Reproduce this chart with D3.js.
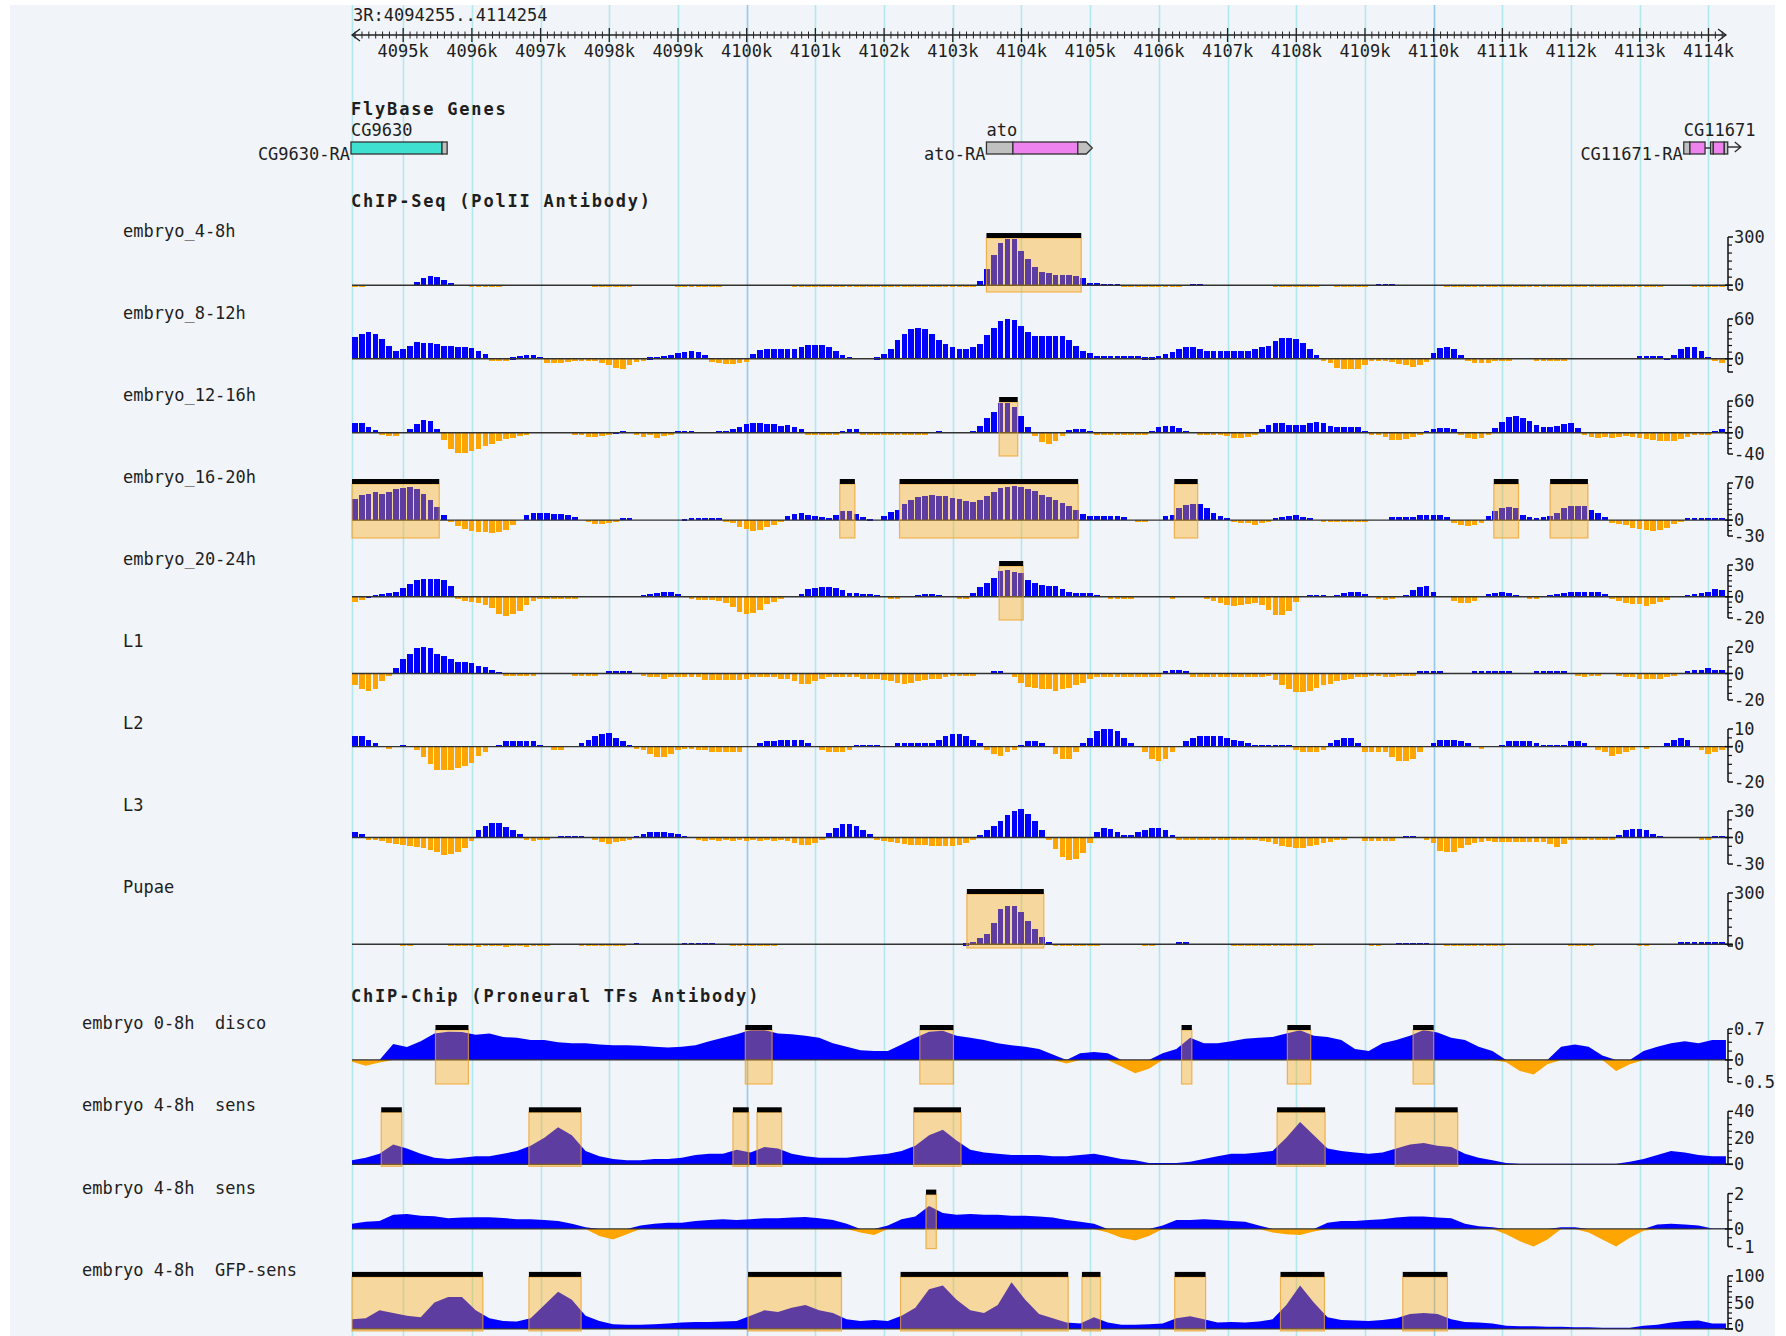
<!DOCTYPE html>
<html>
<head>
<meta charset="utf-8">
<script src="https://cdn.jsdelivr.net/npm/d3@7"></script>
<style>
  html, body { margin: 0; padding: 0; background: #fff; overflow: hidden; }
  svg { display: block; }
  text { font-family: "DejaVu Sans Mono", "Liberation Mono", monospace; fill: #1e1e1e; white-space: pre; }
</style>
</head>
<body>
<svg id="chart" width="1786" height="1336"></svg>
<script>
// ---------------- region ----------------
const chromName = "3R";
const regionStart = 4094255;
const regionEnd = 4114254;
const rulerKb = [4095,4096,4097,4098,4099,4100,4101,4102,4103,4104,4105,4106,4107,4108,4109,4110,4111,4112,4113,4114];

// ---------------- genes (bp) ----------------
const geneNames = ["CG9630", "ato", "CG11671"];
const transcriptNames = ["CG9630-RA", "ato-RA", "CG11671-RA"];
// parts: [start, end, kind]  kind: cds / cds5 / utr / utrTip / intron / arrow
const geneParts = [
  [[4094150, 4095565, "cds"], [4095565, 4095640, "utr"]],
  [[4103490, 4103875, "utr"], [4103875, 4104820, "cds5"], [4104820, 4105030, "utrTip"]],
  [[4113640, 4113730, "utr"], [4113730, 4113950, "cds5"], [4113950, 4114030, "intron"],
   [4114030, 4114070, "utr"], [4114070, 4114230, "cds5"], [4114230, 4114280, "utr"], [4114280, 4114470, "arrow"]]
];

// ---------------- ChIP-Seq (PolII), 100 bp bins ----------------
const seqBinSize = 100;
const seqLabels = ["embryo_4-8h","embryo_8-12h","embryo_12-16h","embryo_16-20h","embryo_20-24h","L1","L2","L3","Pupae"];
const seqDomains = [[-30,300],[-20,60],[-40,60],[-30,70],[-20,30],[-20,20],[-20,10],[-30,30],[-10,300]];
const seqTickLabels = [[300,0],[60,0],[60,0,-40],[70,0,-30],[30,0,-20],[20,0,-20],[10,0,-20],[30,0,-30],[300,0]];

const seqE4_8 = [
  -5,-5,0,0,0,0,0,0,0,20, 45,60,50,35,15,0,0,-4,-4,-4, -4,-4,0,0,0,0,0,0,0,0, 0,0,0,0,0,-3,-4,-8,-6,-4,
  -3,0,0,0,0,0,0,-4,-4,-4, -4,-4,-4,-4,0,0,0,0,0,0, 0,0,0,0,-4,-4,-4,-4,-4,-4, -4,-4,-4,-4,-4,-4,-4,-4,-4,-4,
  -4,-4,-8,-8,-8,-8,-8,-8,-8,-8, -8,25,100,190,260,290,290,215,160,115, 85,78,65,65,65,55,45,15,12,10,
  8,8,-6,-6,-8,-10,-10,-10,-8,-6, -6,0,10,10,0,0,0,0,0,0, 0,0,0,0,-4,-4,-6,-6,-6,-4, -4,0,0,-4,-4,-4,-4,-4,0,8,
  8,8,0,0,0,0,0,0,0,-4, -4,-4,-4,-6,-4,-4,-4,-6,-4,-4, -4,-4,-4,-4,-4,-8,-8,-8,-8,-8, -8,-8,-8,-8,-8,-8,-8,-8,-8,-8,
  -8,0,0,0,0,-8,-8,-8,-10,-12];
const seqE8_12 = [
  33,38,40,38,30,20,12,15,20,25, 24,24,23,19,19,18,17,16,12,7, -2,-4,-4,2,4,6,6,3,-6,-7, -6,-5,-2,-2,-2,-2,-6,-10,-14,-16,
  -10,-5,-3,2,3,4,6,8,10,11, 10,6,-5,-7,-8,-8,-7,-5,7,13, 14,14,14,14,14,18,21,21,21,17, 11,6,3,0,0,0,2,7,15,28,
  38,45,47,45,38,29,22,18,14,14, 17,22,36,47,57,60,58,50,40,35, 35,35,35,35,29,19,12,8,4,4, 4,4,4,4,4,2,2,4,7,10,
  14,17,17,15,12,11,11,11,12,12, 12,14,17,20,27,32,32,30,24,14, 6,-2,-6,-14,-16,-16,-15,-10,-4,-3, -3,-5,-8,-10,-13,-10,-5,9,16,17,
  15,6,-4,-7,-7,-6,-4,-3,-2,0, 0,0,-2,-2,-2,-2,-2,0,0,0, 0,0,0,0,0,0,0,4,4,4, 4,1,6,14,17,17,11,3,-2,-6];
const seqE12_16 = [
  18,18,11,5,-3,-6,-6,0,8,17, 24,22,8,-14,-31,-38,-38,-34,-30,-25, -21,-16,-12,-9,-6,-3,0,0,0,0, 0,0,-2,-5,-8,-8,-6,-3,2,4,
  0,-3,-8,-4,-10,-6,-3,4,4,4, 0,0,0,3,4,7,11,16,18,18, 16,16,13,14,11,7,-2,-4,-4,-3, -2,3,7,7,-2,-4,-5,-5,-5,-4,
  -3,-3,-3,-2,0,4,0,0,0,0, 4,13,27,40,56,57,49,31,11,-6, -18,-22,-15,-6,5,8,8,4,-3,-3, -3,-3,-3,-3,-3,-3,4,11,13,13,
  9,4,0,-3,-3,-3,-4,-6,-9,-9, -7,-3,7,15,18,18,15,15,15,18, 21,18,13,11,11,11,11,4,-2,-5, -8,-13,-14,-12,-8,-4,3,8,10,10,
  8,-4,-9,-11,-10,-5,9,20,29,31, 27,22,14,11,11,13,16,18,9,-4, -8,-10,-8,-9,-8,-6,-7,-9,-11,-14, -16,-16,-15,-12,-8,-4,-3,-2,4,8];
const seqE16_20 = [
  40,47,50,53,50,53,58,61,63,59, 50,37,24,10,-4,-12,-17,-20,-22,-22, -24,-22,-18,-9,0,9,14,14,14,11, 11,10,5,0,-4,-7,-7,-5,-2,4,
  4,0,0,0,0,0,0,0,3,4, 4,4,4,4,-3,-6,-13,-17,-20,-18, -13,-9,-4,7,11,13,10,7,5,4, 9,18,18,12,6,3,0,8,16,20,
  31,38,43,46,47,46,45,42,39,36, 35,38,45,53,60,63,64,62,58,54, 48,43,38,32,26,20,11,8,7,7, 7,7,5,0,-3,-3,0,0,7,9,
  22,28,31,31,22,13,7,4,-3,-5, -6,-9,-6,-3,4,5,7,9,5,4, 0,-3,-3,-3,-3,-3,-3,-3,0,0, 0,5,5,5,5,9,9,9,9,5,
  -5,-9,-12,-10,-5,7,18,23,24,22, 9,5,4,6,8,14,22,27,27,27, 20,13,6,-5,-8,-9,-14,-16,-18,-20, -18,-14,-8,-3,4,4,4,4,4,4];
const seqE20_24 = [
  -5,-3,1,2,3,4,5,8,12,16, 17,17,17,16,10,-1,-4,-5,-6,-8, -11,-16,-18,-16,-13,-8,-4,-2,-1,-1, -1,-1,-1,0,0,0,0,0,0,0,
  0,0,2,3,4,5,5,3,0,-1, -3,-3,-3,-4,-6,-10,-14,-16,-15,-12, -7,-5,-2,0,0,3,7,8,9,9, 8,6,4,4,3,3,2,0,-2,-2,
  0,0,2,3,3,2,0,0,-2,-2, 4,9,13,18,24,25,23,22,16,13, 11,10,10,7,5,4,4,4,2,0, -2,-2,-2,-2,0,0,0,0,0,-2,
  0,0,0,0,-2,-4,-6,-8,-9,-8, -7,-6,-8,-12,-17,-17,-13,-5,0,2, 2,2,0,2,4,5,5,3,0,-2, -3,-2,0,2,6,9,10,5,0,0,
  -4,-6,-6,-4,0,3,4,5,4,2, 0,-2,-2,0,2,3,4,5,5,5, 5,5,3,-2,-4,-6,-7,-7,-9,-7, -5,-3,0,0,2,3,4,5,7,6];
const seqL1 = [
  -9,-12,-13,-12,-6,-2,4,11,15,19, 20,19,15,13,11,9,9,8,6,5, 3,1,-1,-2,-2,-2,-1,0,0,0, 0,0,-2,-2,-2,-2,0,2,2,2,
  2,0,-2,-3,-3,-4,-3,-3,-3,-3, -3,-5,-5,-5,-5,-5,-5,-4,-3,-3, -3,-3,-4,-4,-6,-8,-8,-6,-4,-3, -3,-3,-3,-3,-4,-4,-4,-5,-6,-7,
  -8,-7,-6,-5,-4,-4,-3,-2,-2,-2, -1,0,0,2,2,0,-3,-7,-10,-11, -12,-12,-13,-12,-11,-9,-7,-4,-3,-3, -3,-3,-3,-3,-3,-3,-3,-3,2,3,
  3,2,-3,-3,-3,-3,-3,-3,-3,-3, -3,-3,-3,-2,-5,-9,-12,-14,-14,-13, -11,-9,-8,-6,-5,-4,-3,-3,-2,-2, -3,-3,-2,-2,-2,2,2,2,2,0,
  0,0,0,2,2,2,2,2,2,0, 0,0,2,2,2,2,2,0,-2,-3, -2,-2,0,0,-2,-3,-3,-4,-4,-4, -4,-3,-2,0,2,3,3,4,3,3];
const seqL2 = [
  6,6,4,2,0,-1,0,1,0,-2, -6,-10,-13,-13,-13,-12,-11,-9,-5,-3, 0,1,3,3,3,3,3,1,0,-2, -2,0,0,2,4,6,7,8,5,3,
  1,-1,-2,-4,-6,-6,-4,-2,-1,-1, -2,-2,-3,-3,-3,-3,-3,0,0,2, 3,3,4,4,4,4,2,0,-2,-3, -3,-3,-2,1,1,1,1,0,0,2,
  2,2,2,2,2,4,6,7,7,6, 4,2,-2,-4,-5,-3,-2,1,3,3, 2,0,-4,-7,-7,-3,2,5,9,10, 10,9,5,2,0,-3,-7,-8,-7,-3,
  0,3,5,6,6,6,6,5,4,3, 2,1,1,1,1,1,1,-2,-3,-3, -3,-2,2,4,5,5,2,-3,-3,-3, -3,-6,-8,-8,-7,-3,0,2,4,4,
  4,3,2,0,-1,0,0,1,3,3, 3,3,2,1,1,1,1,3,3,2, 0,-2,-3,-5,-4,-3,-2,0,-1,0, 0,2,4,5,4,0,-2,-4,-3,-2];
const seqL3 = [
  6,4,-1,-3,-4,-6,-7,-8,-10,-11, -12,-14,-16,-20,-19,-16,-12,-4,8,13, 16,16,12,8,4,-2,-4,-3,-2,0, 2,2,2,2,0,-3,-5,-7,-5,-4,
  -2,2,4,6,6,6,5,4,2,0, -3,-4,-3,-4,-3,-4,-3,-4,-3,-4, -3,-4,-3,-4,-6,-8,-8,-6,-2,5, 11,15,15,13,9,4,-2,-4,-5,-6,
  -7,-8,-8,-9,-10,-10,-10,-10,-9,-6, -3,3,8,13,19,26,30,32,27,19, 8,-3,-13,-22,-26,-24,-17,-6,6,11, 10,6,3,3,6,8,11,11,8,3,
  -3,-3,-3,-3,-3,-3,-3,-3,-3,-3, -3,-3,-4,-5,-7,-10,-11,-12,-12,-10, -8,-6,-5,-3,-2,0,0,-4,-4,-4, -4,-4,0,2,2,0,-3,-6,-15,-16,
  -16,-12,-8,-6,-5,-4,-5,-5,-5,-5, -5,-5,-5,-5,-7,-11,-7,-3,-2,-2, -2,-2,-2,-2,3,8,10,10,8,4, 2,0,0,0,0,0,-3,-3,2,2];
const seqPupae = [
  0,0,0,0,0,0,0,-10,-10,0, 0,0,0,0,-10,-10,-10,-10,-15,-10, -10,-10,-15,-10,-10,-15,-10,-10,-10,0, 0,0,0,-10,-10,-10,-10,-10,-10,-10,
  0,8,0,0,0,0,0,0,10,10, 10,10,10,0,0,-10,-10,-10,-10,-10, -10,-10,0,0,0,0,0,0,0,0, 0,0,0,0,0,0,0,0,0,0,
  0,0,0,0,0,0,0,0,0,5, 15,35,60,125,205,225,225,190,135,88, 40,12,-8,-8,-8,-8,-8,-8,-8,0, 0,0,0,0,0,-10,-10,0,0,0,
  12,12,0,0,0,0,0,0,-10,-10, -10,-10,-10,-10,-8,-8,-8,-8,-8,-8, 0,0,0,0,0,0,0,0,-8,-8, 0,0,10,10,10,10,10,0,0,-8,
  -8,-8,-8,-8,-8,-8,-8,-8,0,0, 0,0,0,0,0,0,0,-10,-10,-10, -10,0,0,0,0,0,0,-10,-10,0, 0,0,0,12,12,12,12,12,12,12];
const seqValues = [seqE4_8, seqE8_12, seqE12_16, seqE16_20, seqE20_24, seqL1, seqL2, seqL3, seqPupae];

// called enriched regions per ChIP-Seq track (bp)
const seqPeaks = [
  [[4103490, 4104870]],
  [],
  [[4103675, 4103945]],
  [[4094255, 4095525], [4101355, 4101575], [4102225, 4104825], [4106225, 4106565], [4110875, 4111235], [4111695, 4112245]],
  [[4103675, 4104025]],
  [], [], [],
  [[4103205, 4104325]]
];

// ---------------- ChIP-Chip (proneural TFs), 200 bp steps ----------------
const chipStep = 200;
const chipLabels = ["embryo 0-8h  disco", "embryo 4-8h  sens", "embryo 4-8h  sens", "embryo 4-8h  GFP-sens"];
const chipDomains = [[-0.5, 0.7], [0, 40], [-1, 2], [0, 100]];
const chipTickLabels = [[0.7, 0, -0.5], [40, 20, 0], [2, 0, -1], [100, 50, 0]];
const chipDisco = [
  -0.04,-0.13,-0.06,0.36,0.29,0.42,0.6,0.64,0.63,0.57, 0.6,0.52,0.5,0.45,0.45,0.4,0.38,0.38,0.35,0.33,
  0.33,0.32,0.3,0.28,0.3,0.33,0.42,0.5,0.58,0.68, 0.68,0.6,0.58,0.55,0.5,0.38,0.3,0.22,0.2,0.2,
  0.35,0.5,0.64,0.66,0.55,0.5,0.45,0.38,0.33,0.3, 0.25,0.12,-0.08,0.15,0.18,0.15,-0.15,-0.3,-0.2,0.15,
  0.25,0.5,0.38,0.38,0.42,0.48,0.5,0.52,0.6,0.67, 0.55,0.52,0.45,0.25,0.2,0.38,0.45,0.55,0.68,0.62,
  0.5,0.45,0.3,0.2,-0.05,-0.25,-0.33,-0.1,0.3,0.35, 0.3,0.1,-0.25,-0.1,0.2,0.3,0.38,0.42,0.38,0.45];
const chipSens1 = [
  3,5,8,15,12,8,5,4,5,6, 6,8,10,14,20,28,22,10,6,4, 3,3,4,4,5,7,8,8,11,9, 13,12,8,6,5,5,5,6,7,8,
  10,14,22,26,18,11,9,8,7,7, 7,6,6,7,8,6,4,3,1,1, 1,2,4,6,8,8,9,10,20,32, 22,12,10,9,8,9,12,15,16,14,
  13,8,5,3,1,0.5,0.5,0.5,0.5,0.5, 0.5,0.5,0.5,2,4,7,10,9,7,6];
const chipSens2 = [
  0.3,0.4,0.45,0.8,0.85,0.75,0.72,0.6,0.65,0.66, 0.66,0.62,0.55,0.55,0.5,0.45,0.3,0.1,-0.4,-0.6,
  -0.3,0.2,0.3,0.35,0.35,0.45,0.5,0.55,0.5,0.55, 0.6,0.6,0.65,0.67,0.6,0.5,0.3,-0.2,-0.35,0.2,
  0.55,0.7,1.3,0.9,0.8,0.85,0.8,0.8,0.75,0.75, 0.7,0.65,0.5,0.4,0.3,-0.2,-0.5,-0.65,-0.4,0.2,
  0.5,0.5,0.55,0.5,0.45,0.4,0.2,-0.2,-0.3,-0.35, -0.15,0.35,0.45,0.45,0.5,0.55,0.65,0.7,0.7,0.65,
  0.6,0.3,0.15,0.1,-0.3,-0.7,-1.0,-0.6,0.1,0.1, -0.2,-0.6,-1.0,-0.5,-0.1,0.25,0.3,0.25,0.2,0.02];
const chipGfpSens = [
  18,20,35,30,25,22,50,60,60,35, 20,15,14,20,45,70,55,25,15,9, 8,8,9,10,12,13,13,14,15,25, 35,32,40,45,35,30,18,15,17,15,
  25,40,75,82,55,35,30,45,88,55, 28,20,12,10,22,12,8,8,9,10, 20,24,18,12,13,12,14,18,45,82, 50,22,17,16,15,17,20,28,30,28,
  18,13,12,10,6,5,5,4,4,3, 3,2,2,2,6,8,12,15,16,10];
const chipValues = [chipDisco, chipSens1, chipSens2, chipGfpSens];

const chipPeaks = [
  [[4095470,4095950],[4099980,4100370],[4102520,4103010],[4106330,4106480],[4107870,4108210],[4109700,4110000]],
  [[4094680,4094980],[4096830,4097590],[4099800,4100030],[4100150,4100510],[4102430,4103120],[4107720,4108420],[4109440,4110350]],
  [[4102610,4102760]],
  [[4094255,4096160],[4096830,4097590],[4100020,4101380],[4102240,4104680],[4104880,4105150],[4106230,4106680],[4107770,4108410],[4109550,4110200]]
];

// ---------------- layout ----------------
const W = 1786, H = 1336;
const plotLeft = 352, plotRight = 1726, axisX = 1728;
const trackH = 53;
const seqTop0 = 237, seqGap = 82;
const chipTop0 = 1029, chipGap = 82.3;
const BLUE = "#0000ff", ORANGE = "#ffa500";
const PEAK_FILL = "rgba(255,165,0,0.37)", PEAK_EDGE = "rgba(238,160,40,0.75)";

const svg = d3.select("#chart");
const x = d3.scaleLinear().domain([regionStart, regionEnd + 1]).range([plotLeft, plotRight]);

// page background
svg.append("rect").attr("width", W).attr("height", H).attr("fill", "#ffffff");
svg.append("rect").attr("x", 10).attr("y", 5).attr("width", 1765).attr("height", H - 5).attr("fill", "#f1f4f9");

// kilobase grid lines
const gridPos = [regionStart].concat(rulerKb.map(k => k * 1000));
svg.append("g").selectAll("line").data(gridPos).join("line")
  .attr("x1", d => Math.round(x(d)) + 0.5).attr("x2", d => Math.round(x(d)) + 0.5)
  .attr("y1", 5).attr("y2", H)
  .attr("stroke", d => (d % 10000 === 0 ? "#93caee" : "#b2e9ee"))
  .attr("stroke-width", 1.6);

// ---------------- ruler ----------------
const ruler = svg.append("g");
const rulerY = 35;
ruler.append("text").attr("x", 353).attr("y", 21).attr("font-size", 17)
  .text(`${chromName}:${regionStart}..${regionEnd}`);
ruler.append("line").attr("x1", plotLeft).attr("x2", plotRight).attr("y1", rulerY).attr("y2", rulerY)
  .attr("stroke", "#222").attr("stroke-width", 1.3);
ruler.append("path").attr("d", `M${plotLeft + 8},${rulerY - 6} L${plotLeft},${rulerY} L${plotLeft + 8},${rulerY + 6}`)
  .attr("fill", "none").attr("stroke", "#222").attr("stroke-width", 1.3);
ruler.append("path").attr("d", `M${plotRight - 8},${rulerY - 6} L${plotRight},${rulerY} L${plotRight - 8},${rulerY + 6}`)
  .attr("fill", "none").attr("stroke", "#222").attr("stroke-width", 1.3);
const minorTicks = d3.range(Math.ceil(regionStart / 100) * 100, regionEnd, 100).filter(d => d % 1000 !== 0);
ruler.append("g").selectAll("line").data(minorTicks).join("line")
  .attr("x1", d => x(d)).attr("x2", d => x(d)).attr("y1", rulerY - 3.5).attr("y2", rulerY + 3.5)
  .attr("stroke", "#222").attr("stroke-width", 1);
ruler.append("g").selectAll("line").data(rulerKb).join("line")
  .attr("x1", d => x(d * 1000)).attr("x2", d => x(d * 1000)).attr("y1", rulerY - 7).attr("y2", rulerY + 7)
  .attr("stroke", "#222").attr("stroke-width", 1.3);
ruler.append("g").selectAll("text").data(rulerKb).join("text")
  .attr("x", d => x(d * 1000)).attr("y", 57).attr("text-anchor", "middle").attr("font-size", 17)
  .text(d => `${d}k`);

// ---------------- section headings ----------------
function heading(y, t) {
  svg.append("text").attr("x", 351).attr("y", y).attr("font-size", 17).attr("font-weight", "bold")
    .attr("letter-spacing", 1.8).text(t);
}
heading(115, "FlyBase Genes");
heading(207, "ChIP-Seq (PolII Antibody)");
heading(1002, "ChIP-Chip (Proneural TFs Antibody)");

// ---------------- genes ----------------
const geneG = svg.append("g");
const gTop = 142, gH = 12;
geneParts.forEach((parts, gi) => {
  const start = parts[0][0];
  const x0 = Math.max(x(start), plotLeft - 1);
  parts.forEach(([s, e, kind]) => {
    const xs = Math.max(x(s), plotLeft - 1), xe = x(e);
    if (kind === "intron") {
      geneG.append("line").attr("x1", xs).attr("x2", xe).attr("y1", gTop + gH / 2).attr("y2", gTop + gH / 2)
        .attr("stroke", "#333").attr("stroke-width", 1.5);
    } else if (kind === "arrow") {
      const ym = gTop + gH / 2 - 1;
      geneG.append("path").attr("d", `M${xs},${ym} L${xe},${ym} M${xe - 6},${ym - 5} L${xe},${ym} L${xe - 6},${ym + 5}`)
        .attr("fill", "none").attr("stroke", "#333").attr("stroke-width", 1.4);
    } else if (kind === "utrTip") {
      geneG.append("path")
        .attr("d", `M${xs},${gTop} L${xe - 6},${gTop} L${xe},${gTop + gH / 2} L${xe - 6},${gTop + gH} L${xs},${gTop + gH} Z`)
        .attr("fill", "#c0c0c0").attr("stroke", "#333").attr("stroke-width", 1.3);
    } else {
      const fill = kind === "cds" ? "#40e0d0" : kind === "cds5" ? "#ee82ee" : "#c0c0c0";
      geneG.append("rect").attr("x", xs).attr("y", gTop).attr("width", xe - xs).attr("height", gH)
        .attr("fill", fill).attr("stroke", "#333").attr("stroke-width", 1.3);
    }
  });
  geneG.append("text").attr("x", x0).attr("y", 136).attr("font-size", 17).text(geneNames[gi]);
  geneG.append("text").attr("x", x0 - 1).attr("y", 160).attr("font-size", 17).attr("text-anchor", "end")
    .text(transcriptNames[gi]);
});

// ---------------- shared track helpers ----------------
function drawAxis(g, y, domain, labels) {
  const [lo, hi] = domain;
  const ax = g.append("g");
  ax.append("line").attr("x1", axisX).attr("x2", axisX).attr("y1", y(hi)).attr("y2", y(lo))
    .attr("stroke", "#111").attr("stroke-width", 1.5);
  const minor = d3.ticks(lo, hi, 8).filter(v => v > lo && v < hi);
  ax.selectAll("line.minor").data(minor).join("line").attr("class", "minor")
    .attr("x1", axisX).attr("x2", axisX + 4).attr("y1", d => y(d)).attr("y2", d => y(d))
    .attr("stroke", "#111").attr("stroke-width", 1.2);
  ax.selectAll("line.end").data([lo, hi]).join("line").attr("class", "end")
    .attr("x1", axisX).attr("x2", axisX + 5).attr("y1", d => y(d)).attr("y2", d => y(d))
    .attr("stroke", "#111").attr("stroke-width", 1.5);
  ax.append("line").attr("x1", axisX - 3).attr("x2", axisX + 5).attr("y1", y(0)).attr("y2", y(0))
    .attr("stroke", "#111").attr("stroke-width", 1.5);
  // labels stay inside the page at the bottom edge
  ax.selectAll("text").data(labels).join("text")
    .attr("x", axisX + 6).attr("y", d => Math.min(y(d), H - 10)).attr("dy", "0.36em").attr("font-size", 17)
    .text(d => String(d));
}

function drawPeaks(g, top, peaks) {
  const pg = g.append("g");
  pg.selectAll("rect.box").data(peaks).join("rect").attr("class", "box")
    .attr("x", d => x(d[0])).attr("width", d => x(d[1]) - x(d[0]))
    .attr("y", top + 1).attr("height", trackH + 1)
    .attr("fill", PEAK_FILL).attr("stroke", PEAK_EDGE).attr("stroke-width", 1.2);
  pg.selectAll("rect.bar").data(peaks).join("rect").attr("class", "bar")
    .attr("x", d => x(d[0])).attr("width", d => x(d[1]) - x(d[0]))
    .attr("y", top - 4).attr("height", 5).attr("fill", "#000");
}

// ---------------- ChIP-Seq tracks ----------------
seqLabels.forEach((label, i) => {
  const top = seqTop0 + seqGap * i;
  const domain = seqDomains[i];
  const y = d3.scaleLinear().domain(domain).range([top + trackH, top]);
  const g = svg.append("g");
  g.append("text").attr("x", 123).attr("y", top).attr("font-size", 17).text(label);

  const bins = seqValues[i].map((v, b) => ({ s: regionStart + b * seqBinSize, v }));
  g.append("g").attr("shape-rendering", "crispEdges")
    .selectAll("rect").data(bins.filter(d => d.v !== 0)).join("rect")
    .attr("x", d => x(d.s))
    .attr("width", d => x(d.s + seqBinSize) - x(d.s) - 1.2)
    .attr("y", d => d.v > 0 ? y(d.v) : y(0))
    .attr("height", d => Math.max(2.2, Math.abs(y(d.v) - y(0))))
    .attr("fill", d => d.v > 0 ? BLUE : ORANGE);

  g.append("line").attr("x1", plotLeft).attr("x2", axisX).attr("y1", y(0)).attr("y2", y(0))
    .attr("stroke", "#333").attr("stroke-width", 1.4);
  drawPeaks(g, top, seqPeaks[i]);
  drawAxis(g, y, domain, seqTickLabels[i]);
});

// ---------------- ChIP-Chip tracks ----------------
chipLabels.forEach((label, i) => {
  const top = chipTop0 + chipGap * i;
  const domain = chipDomains[i];
  const y = d3.scaleLinear().domain(domain).range([top + trackH, top]);
  const g = svg.append("g");
  g.append("text").attr("x", 82).attr("y", top).attr("font-size", 17).text(label);

  const vals = chipValues[i];
  const pts = vals.map((v, j) => ({ p: regionStart + j * chipStep, v }));
  pts.push({ p: regionEnd, v: vals[vals.length - 1] });
  const pos = d3.area().x(d => x(d.p)).y0(y(0)).y1(d => y(Math.max(0, d.v)));
  const neg = d3.area().x(d => x(d.p)).y0(y(0)).y1(d => y(Math.min(0, d.v)));
  g.append("path").datum(pts).attr("d", pos).attr("fill", BLUE);
  g.append("path").datum(pts).attr("d", neg).attr("fill", ORANGE);

  g.append("line").attr("x1", plotLeft).attr("x2", axisX).attr("y1", y(0)).attr("y2", y(0))
    .attr("stroke", "#333").attr("stroke-width", 1.2);
  drawPeaks(g, top, chipPeaks[i]);
  drawAxis(g, y, domain, chipTickLabels[i]);
});
</script>
</body>
</html>
